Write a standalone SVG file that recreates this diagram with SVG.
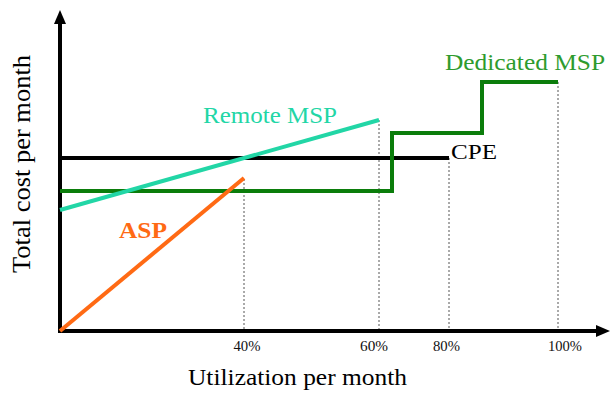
<svg xmlns="http://www.w3.org/2000/svg" width="613" height="393" viewBox="0 0 613 393">
<style>
text{font-family:"Liberation Serif","Times New Roman",serif}
.dot{stroke:#555;stroke-width:1;stroke-dasharray:2,2;fill:none}
.tick{font-size:14px;fill:#111;text-anchor:middle}
.ax{stroke:#000;stroke-width:4;fill:none}
</style>
<defs>
<marker id="ah" markerWidth="3.5" markerHeight="3" refX="0.5" refY="1.5" orient="auto" markerUnits="strokeWidth">
<path d="M0,0 L3.5,1.5 L0,3 Z" fill="#000"/>
</marker>
</defs>
<rect width="613" height="393" fill="#fff"/>
<g id="grid">
<line class="dot" x1="244" y1="179" x2="244" y2="331"/>
<line class="dot" x1="379" y1="120" x2="379" y2="331"/>
<line class="dot" x1="449" y1="158" x2="449" y2="331"/>
<line class="dot" x1="558" y1="82" x2="558" y2="331"/>
</g>
<g id="axes">
<line class="ax" x1="60" y1="333" x2="60" y2="22" marker-end="url(#ah)"/>
<line class="ax" x1="58" y1="331" x2="598" y2="331" marker-end="url(#ah)"/>
</g>
<g id="connectors">
<line id="cpe-line" x1="60" y1="158" x2="449" y2="158" stroke="#000" stroke-width="4"/>
<polyline id="dmsp-line" points="60,191 392,191 392,133 482,133 482,82 558,82" fill="none" stroke="#0b7d0b" stroke-width="4"/>
<line id="rmsp-line" x1="60" y1="210" x2="379" y2="120" stroke="#22d6a6" stroke-width="4"/>
<line id="asp-line" x1="60" y1="331" x2="244" y2="178" stroke="#ff6a14" stroke-width="4"/>
</g>
<g id="ticks">
<text class="tick" x="247" y="351" textLength="27" lengthAdjust="spacingAndGlyphs">40%</text>
<text class="tick" x="374" y="351" textLength="28" lengthAdjust="spacingAndGlyphs">60%</text>
<text class="tick" x="446.5" y="351" textLength="27" lengthAdjust="spacingAndGlyphs">80%</text>
<text class="tick" x="565" y="351" textLength="34" lengthAdjust="spacingAndGlyphs">100%</text>
</g>
<g id="labels">
<text x="188" y="385" font-size="24" textLength="219" lengthAdjust="spacingAndGlyphs" fill="#000">Utilization per month</text>
<text transform="translate(30,273) rotate(-90)" font-size="25" textLength="218" lengthAdjust="spacingAndGlyphs" fill="#000">Total cost per month</text>
<g id="rmsp"><text x="203" y="123" font-size="24" textLength="134" lengthAdjust="spacingAndGlyphs" fill="#22d6a6">Remote MSP</text></g>
<g id="dmsp"><text x="445" y="70" font-size="23" textLength="160" lengthAdjust="spacingAndGlyphs" fill="#2e9b2e">Dedicated MSP</text></g>
<g id="cpe"><text x="451" y="159" font-size="22" textLength="46" lengthAdjust="spacingAndGlyphs" fill="#000">CPE</text></g>
<g id="asp"><text x="119" y="238" font-size="23" font-weight="bold" textLength="48" lengthAdjust="spacingAndGlyphs" fill="#ff6a14">ASP</text></g>
</g>
</svg>
